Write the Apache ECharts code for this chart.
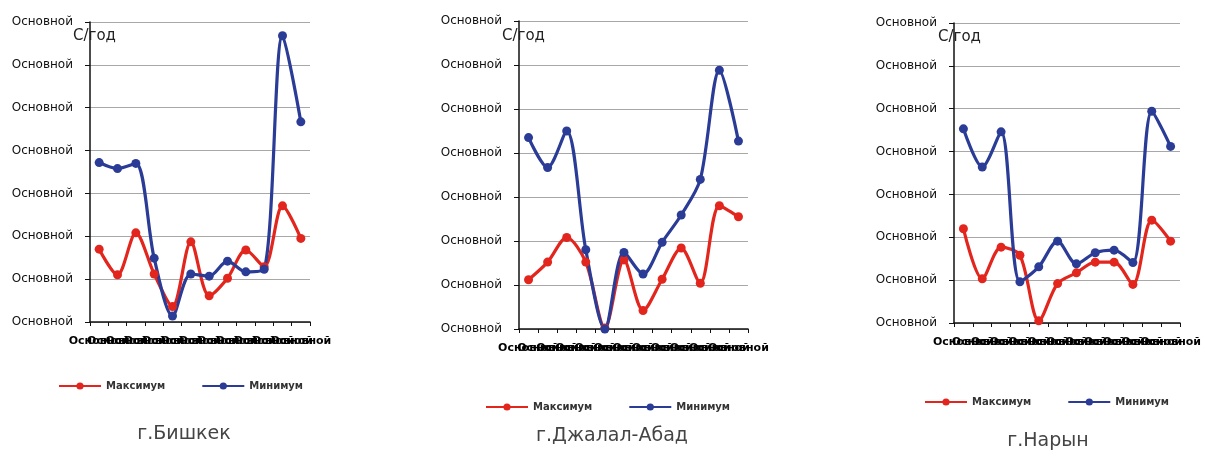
<!DOCTYPE html>
<html>
<head>
<meta charset="utf-8">
<script src="https://cdn.jsdelivr.net/npm/echarts@6/dist/echarts.min.js"></script>
<style>
html,body{margin:0;padding:0;background:#fff;}
#chart{width:1205px;height:457px;}
</style>
</head>
<body>
<div id="chart"></div>
<script>
// ---- data ----
const categories = ['Основной','Основной','Основной','Основной','Основной','Основной','Основной','Основной','Основной','Основной','Основной','Основной'];
const yTickLabels = ['Основной','Основной','Основной','Основной','Основной','Основной','Основной','Основной'];
const seriesNames = ['Максимум','Минимум'];
const cityTitles = ['г.Бишкек','г.Джалал-Абад','г.Нарын'];
const unitLabel = 'С/год';

const bishkekMax = [1.70,1.10,2.08,1.12,0.36,1.87,0.61,1.02,1.68,1.29,2.71,1.95];
const bishkekMin = [3.72,3.58,3.70,1.49,0.14,1.12,1.07,1.42,1.17,1.23,6.68,4.67];
const jalalMax   = [1.12,1.52,2.08,1.52,0.02,1.57,0.42,1.13,1.84,1.04,2.80,2.55];
const jalalMin   = [4.35,3.67,4.50,1.80,0.00,1.74,1.25,1.97,2.59,3.40,5.88,4.27];
const narynMax   = [2.20,1.03,1.77,1.58,0.05,0.92,1.17,1.42,1.42,0.90,2.40,1.91];
const narynMin   = [4.53,3.64,4.46,0.96,1.31,1.91,1.38,1.64,1.70,1.41,4.94,4.12];

// ---- layout / style ----
const FONT = 'DejaVu Sans';
const RED = '#e2261e';
const BLUE = '#2a3c96';
const panels = [
  {grid:{left:90, top:22, width:220, height:300}, maxD:bishkekMax, minD:bishkekMin,
   legend:{left:58, top:381}, title:{x:184, y:425}, unit:{x:73, y:29}},
  {grid:{left:519, top:21, width:229, height:308}, maxD:jalalMax, minD:jalalMin,
   legend:{left:485, top:402}, title:{x:612, y:427}, unit:{x:502, y:29}},
  {grid:{left:954, top:23, width:226, height:300}, maxD:narynMax, minD:narynMin,
   legend:{left:924, top:397}, title:{x:1048, y:432}, unit:{x:938, y:30}}
];

const option = {
  animation:false,
  backgroundColor:'#fff',
  textStyle:{fontFamily:FONT},
  grid:[], xAxis:[], yAxis:[], series:[], legend:[], title:[], graphic:[]
};

panels.forEach((p, i) => {
  option.grid.push(Object.assign({outerBoundsMode:'none', containLabel:false}, p.grid));
  option.xAxis.push({
    type:'category', gridIndex:i, data:categories, boundaryGap:true,
    axisLine:{lineStyle:{color:'#111', width:1.5}},
    axisTick:{show:true, length:4, lineStyle:{color:'#111'}},
    axisLabel:{interval:0, hideOverlap:false, margin:14, fontSize:11, fontWeight:'bold', color:'#000', fontFamily:FONT},
    splitLine:{show:false}
  });
  option.yAxis.push({
    type:'value', gridIndex:i, min:0, max:7, interval:1,
    axisLine:{show:true, lineStyle:{color:'#111', width:1.5}},
    axisTick:{show:true, length:5, lineStyle:{color:'#111'}},
    axisLabel:{margin:17, fontSize:12, color:'#111', fontFamily:FONT,
      formatter:(v) => yTickLabels[Math.round(v)]},
    splitLine:{show:true, lineStyle:{color:'#a8a8a8', width:1}}
  });
  const mk = (name, data, color) => ({
    name, type:'line', xAxisIndex:i, yAxisIndex:i, data,
    smooth:0.3, symbol:'circle', symbolSize:9, showSymbol:true,
    lineStyle:{color, width:3.2}, itemStyle:{color}
  });
  option.series.push(mk(seriesNames[0], p.maxD, RED));
  option.series.push(mk(seriesNames[1], p.minD, BLUE));
  option.legend.push({
    left:p.legend.left, top:p.legend.top, orient:'horizontal',
    data:seriesNames, itemWidth:42, itemHeight:9, itemGap:36, padding:0,
    textStyle:{fontSize:10, fontWeight:'bold', color:'#333', fontFamily:FONT}
  });
  option.title.push({
    text:cityTitles[i], left:p.title.x, top:p.title.y, textAlign:'center', padding:0,
    textStyle:{fontSize:19, fontWeight:'normal', color:'#444', fontFamily:FONT}
  });
  option.graphic.push({
    type:'text', left:p.unit.x, top:p.unit.y, z:10,
    style:{text:unitLabel, fontSize:15, fill:'#222', fontFamily:FONT}
  });
});

const chart = echarts.init(document.getElementById('chart'));
chart.setOption(option);
</script>
</body>
</html>
